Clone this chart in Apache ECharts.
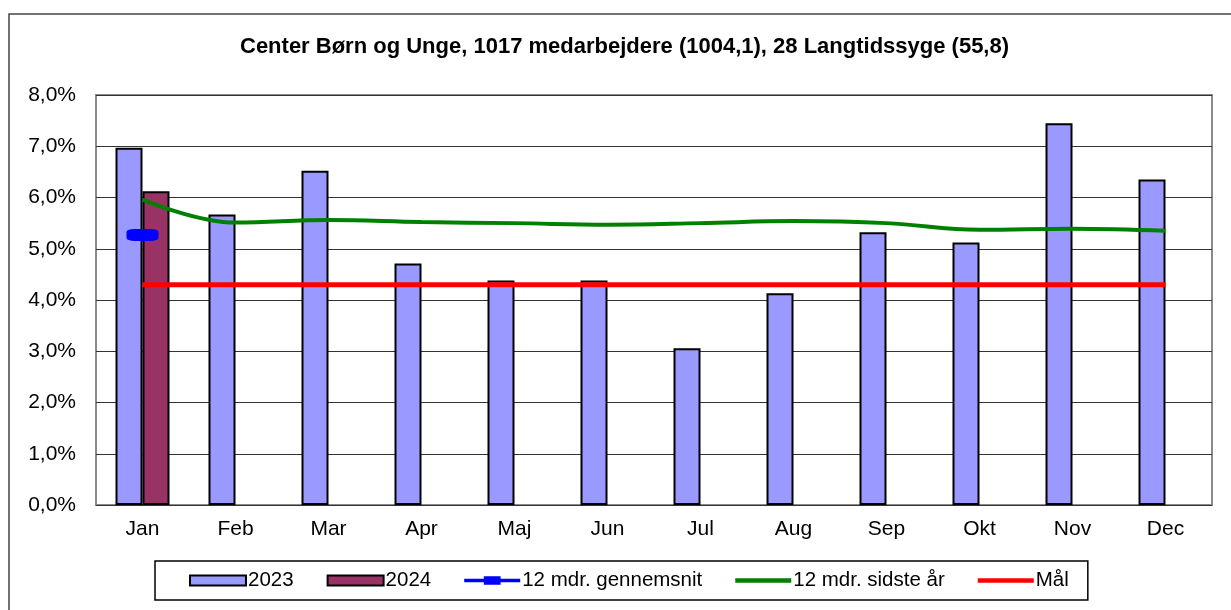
<!DOCTYPE html>
<html>
<head>
<meta charset="utf-8">
<title>Center Børn og Unge</title>
<script src="https://cdn.jsdelivr.net/npm/echarts@6/dist/echarts.min.js"></script>
<style>
  html, body { margin: 0; padding: 0; background: #fff; }
  #chart { width: 1231px; height: 610px; }
</style>
</head>
<body>
<div id="chart"></div>
<script>
  const months = ['Jan', 'Feb', 'Mar', 'Apr', 'Maj', 'Jun', 'Jul', 'Aug', 'Sep', 'Okt', 'Nov', 'Dec'];
  const values2023 = [6.97, 5.67, 6.52, 4.71, 4.38, 4.38, 3.06, 4.13, 5.32, 5.12, 7.45, 6.35];
  const values2024 = [6.12, null, null, null, null, null, null, null, null, null, null, null];
  const avg12 = [5.27, null, null, null, null, null, null, null, null, null, null, null];
  const lastYear12 = [5.96, 5.51, 5.56, 5.52, 5.50, 5.47, 5.50, 5.54, 5.50, 5.37, 5.39, 5.35];
  const goal = [4.3, 4.3, 4.3, 4.3, 4.3, 4.3, 4.3, 4.3, 4.3, 4.3, 4.3, 4.3];
  const titleText = 'Center Børn og Unge, 1017 medarbejdere (1004,1), 28 Langtidssyge (55,8)';

  const FONT = 'Arial, "Liberation Sans", sans-serif';
  // legend icons: the extra moveTo points keep the full 60x10 box so the bars stay thin
  const ICON_LINE = 'path://M0,0 M60,10 M0,2.5 L60,2.5 L60,7.5 L0,7.5 Z';
  const ICON_LINE_MARK = 'path://M0,0 M60,10 M0,3 L60,3 L60,7 L0,7 Z M21,0.5 L39,0.5 L39,9.5 L21,9.5 Z';

  const chart = echarts.init(document.getElementById('chart'));

  function formatPct(value) {
    return value.toFixed(1).replace('.', ',') + '%';
  }

  chart.setOption({
    animation: false,
    backgroundColor: '#fff',
    textStyle: { fontFamily: FONT },
    title: {
      text: titleText,
      left: 240,
      top: 36,
      padding: 0,
      textStyle: { fontSize: 22, fontWeight: 'bold', color: '#000', fontFamily: FONT },
    },
    graphic: [
      {
        type: 'rect',
        silent: true,
        shape: { x: 9, y: 14, width: 1400, height: 800 },
        style: { fill: 'none', stroke: '#444', lineWidth: 1.5 },
      },
    ],
    grid: {
      left: 96,
      right: 19,
      top: 95,
      bottom: 105,
      show: true,
      borderColor: '#8a8a8a',
      borderWidth: 2,
      backgroundColor: 'transparent',
    },
    legend: {
      left: 155,
      top: 561,
      padding: [9, 19, 9, 34],
      borderColor: '#000',
      borderWidth: 1.5,
      itemGap: 33,
      itemWidth: 56,
      itemHeight: 10,
      textStyle: { fontSize: 20.5, color: '#000', fontFamily: FONT, padding: [0, 0, 0, -3] },
      data: [
        { name: '2023', icon: 'rect' },
        { name: '2024', icon: 'rect' },
        { name: '12 mdr. gennemsnit', icon: ICON_LINE_MARK },
        { name: '12 mdr. sidste år', icon: ICON_LINE },
        { name: 'Mål', icon: ICON_LINE },
      ],
    },
    xAxis: {
      type: 'category',
      data: months,
      axisLine: { show: false },
      axisTick: { show: false },
      axisLabel: { fontSize: 21, color: '#000', margin: 14 },
      splitLine: { show: false },
    },
    yAxis: {
      type: 'value',
      min: 0,
      max: 8,
      interval: 1,
      axisLine: { show: false },
      axisTick: { show: false },
      axisLabel: { fontSize: 21, color: '#000', margin: 20, formatter: formatPct },
      splitLine: { lineStyle: { color: '#333', width: 1 } },
    },
    series: [
      {
        name: '2023',
        type: 'bar',
        data: values2023,
        barWidth: 27,
        barGap: '0%',
        itemStyle: { color: '#9999ff', borderColor: '#000', borderWidth: 2 },
      },
      {
        name: '2024',
        type: 'bar',
        data: values2024,
        barWidth: 27,
        barGap: '0%',
        itemStyle: { color: '#993366', borderColor: '#000', borderWidth: 2 },
      },
      {
        name: '12 mdr. gennemsnit',
        type: 'line',
        data: avg12,
        symbol: 'roundRect',
        symbolSize: [32, 12],
        showSymbol: true,
        itemStyle: { color: '#0000ff' },
        lineStyle: { color: '#0000ff', width: 4 },
        z: 5,
      },
      {
        name: '12 mdr. sidste år',
        type: 'line',
        data: lastYear12,
        smooth: 0.4,
        symbol: 'none',
        itemStyle: { color: '#008000' },
        lineStyle: { color: '#008000', width: 4 },
        z: 4,
      },
      {
        name: 'Mål',
        type: 'line',
        data: goal,
        symbol: 'none',
        itemStyle: { color: '#ff0000' },
        lineStyle: { color: '#ff0000', width: 5 },
        z: 4,
      },
    ],
  });

  window.addEventListener('resize', () => {
    chart.resize();
  });
</script>
</body>
</html>
